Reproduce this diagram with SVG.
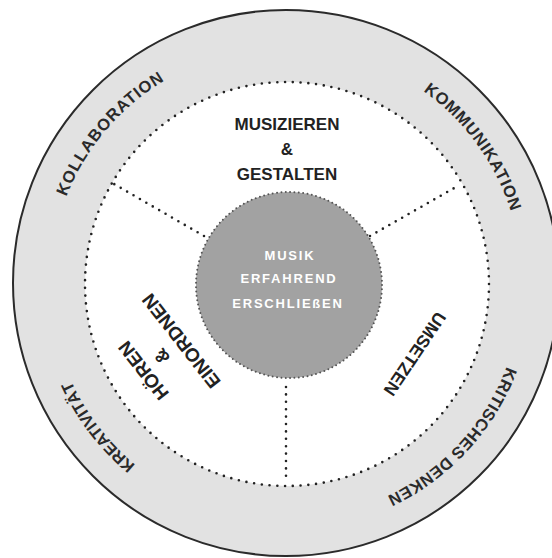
<svg xmlns="http://www.w3.org/2000/svg" width="552" height="558" viewBox="0 0 552 558">
<defs>
<style>
.band{font-family:"Liberation Sans",Arial,sans-serif;font-weight:bold;font-size:16.5px;fill:#2a2a2a;text-anchor:middle;}
.lbl{font-family:"Liberation Sans",Arial,sans-serif;font-weight:bold;fill:#222;text-anchor:middle;}
.core{font-family:"Liberation Sans",Arial,sans-serif;font-weight:bold;font-size:13px;fill:#fff;text-anchor:middle;letter-spacing:1.8px;}
.dots{fill:none;stroke:#222;stroke-width:2.6;stroke-linecap:round;stroke-dasharray:0 1;}
.ray{fill:none;stroke:#222;stroke-width:2.6;stroke-linecap:round;stroke-dasharray:0 7.4;}
</style>
<path id="ring" d="M50 283A236 236 0 1 1 522 283A236 236 0 1 1 50 283"/>
</defs>
<rect width="552" height="558" fill="#fff"/>
<g id="competencies">
<circle cx="286" cy="283" r="273" fill="#e2e2e2" stroke="#2b2b2b" stroke-width="2"/>
<text class="band" letter-spacing="0.9"><textPath href="#ring" startOffset="166">KOLLABORATION</textPath></text>
<text class="band" letter-spacing="0.7"><textPath href="#ring" startOffset="593">KOMMUNIKATION</textPath></text>
<text class="band" letter-spacing="0.4"><textPath href="#ring" startOffset="917">KRITISCHES DENKEN</textPath></text>
<text class="band" letter-spacing="-0.1"><textPath href="#ring" startOffset="1328">KREATIVITÄT</textPath></text>
</g>
<g id="field">
<circle cx="287" cy="284" r="202" fill="#fff"/>
<circle class="dots" cx="287" cy="284" r="202" pathLength="163"/>
</g>
<g id="connectors">
<line class="ray" x1="204" y1="236" x2="114" y2="184"/>
<line class="ray" x1="370" y1="236" x2="456" y2="187"/>
<line class="ray" x1="286" y1="387" x2="286" y2="481"/>
</g>
<g id="musizieren-gestalten">
<text class="lbl" font-size="17" x="287" y="130">MUSIZIEREN</text>
<text class="lbl" font-size="17" x="287" y="155">&amp;</text>
<text class="lbl" font-size="17" x="287" y="180">GESTALTEN</text>
</g>
<g id="umsetzen" transform="translate(415 354) rotate(124)">
<text class="lbl" font-size="17.5" x="0" y="6.3">UMSETZEN</text>
</g>
<g id="hoeren-einordnen" transform="translate(162 356) rotate(232)">
<text class="lbl" font-size="19" x="0" y="-17">HÖREN</text>
<text class="lbl" font-size="19" x="0" y="6">&amp;</text>
<text class="lbl" font-size="19" x="0" y="31">EINORDNEN</text>
</g>
<g id="core">
<circle cx="289" cy="285" r="93" fill="#a2a2a2"/>
<circle cx="289" cy="285" r="93" fill="none" stroke="#555" stroke-width="2" stroke-linecap="round" stroke-dasharray="0 1" pathLength="133"/>
<text class="core" x="290" y="260" letter-spacing="3">MUSIK</text>
<text class="core" x="289" y="283">ERFAHREND</text>
<text class="core" x="288" y="308">ERSCHLIEßEN</text>
</g>
</svg>
